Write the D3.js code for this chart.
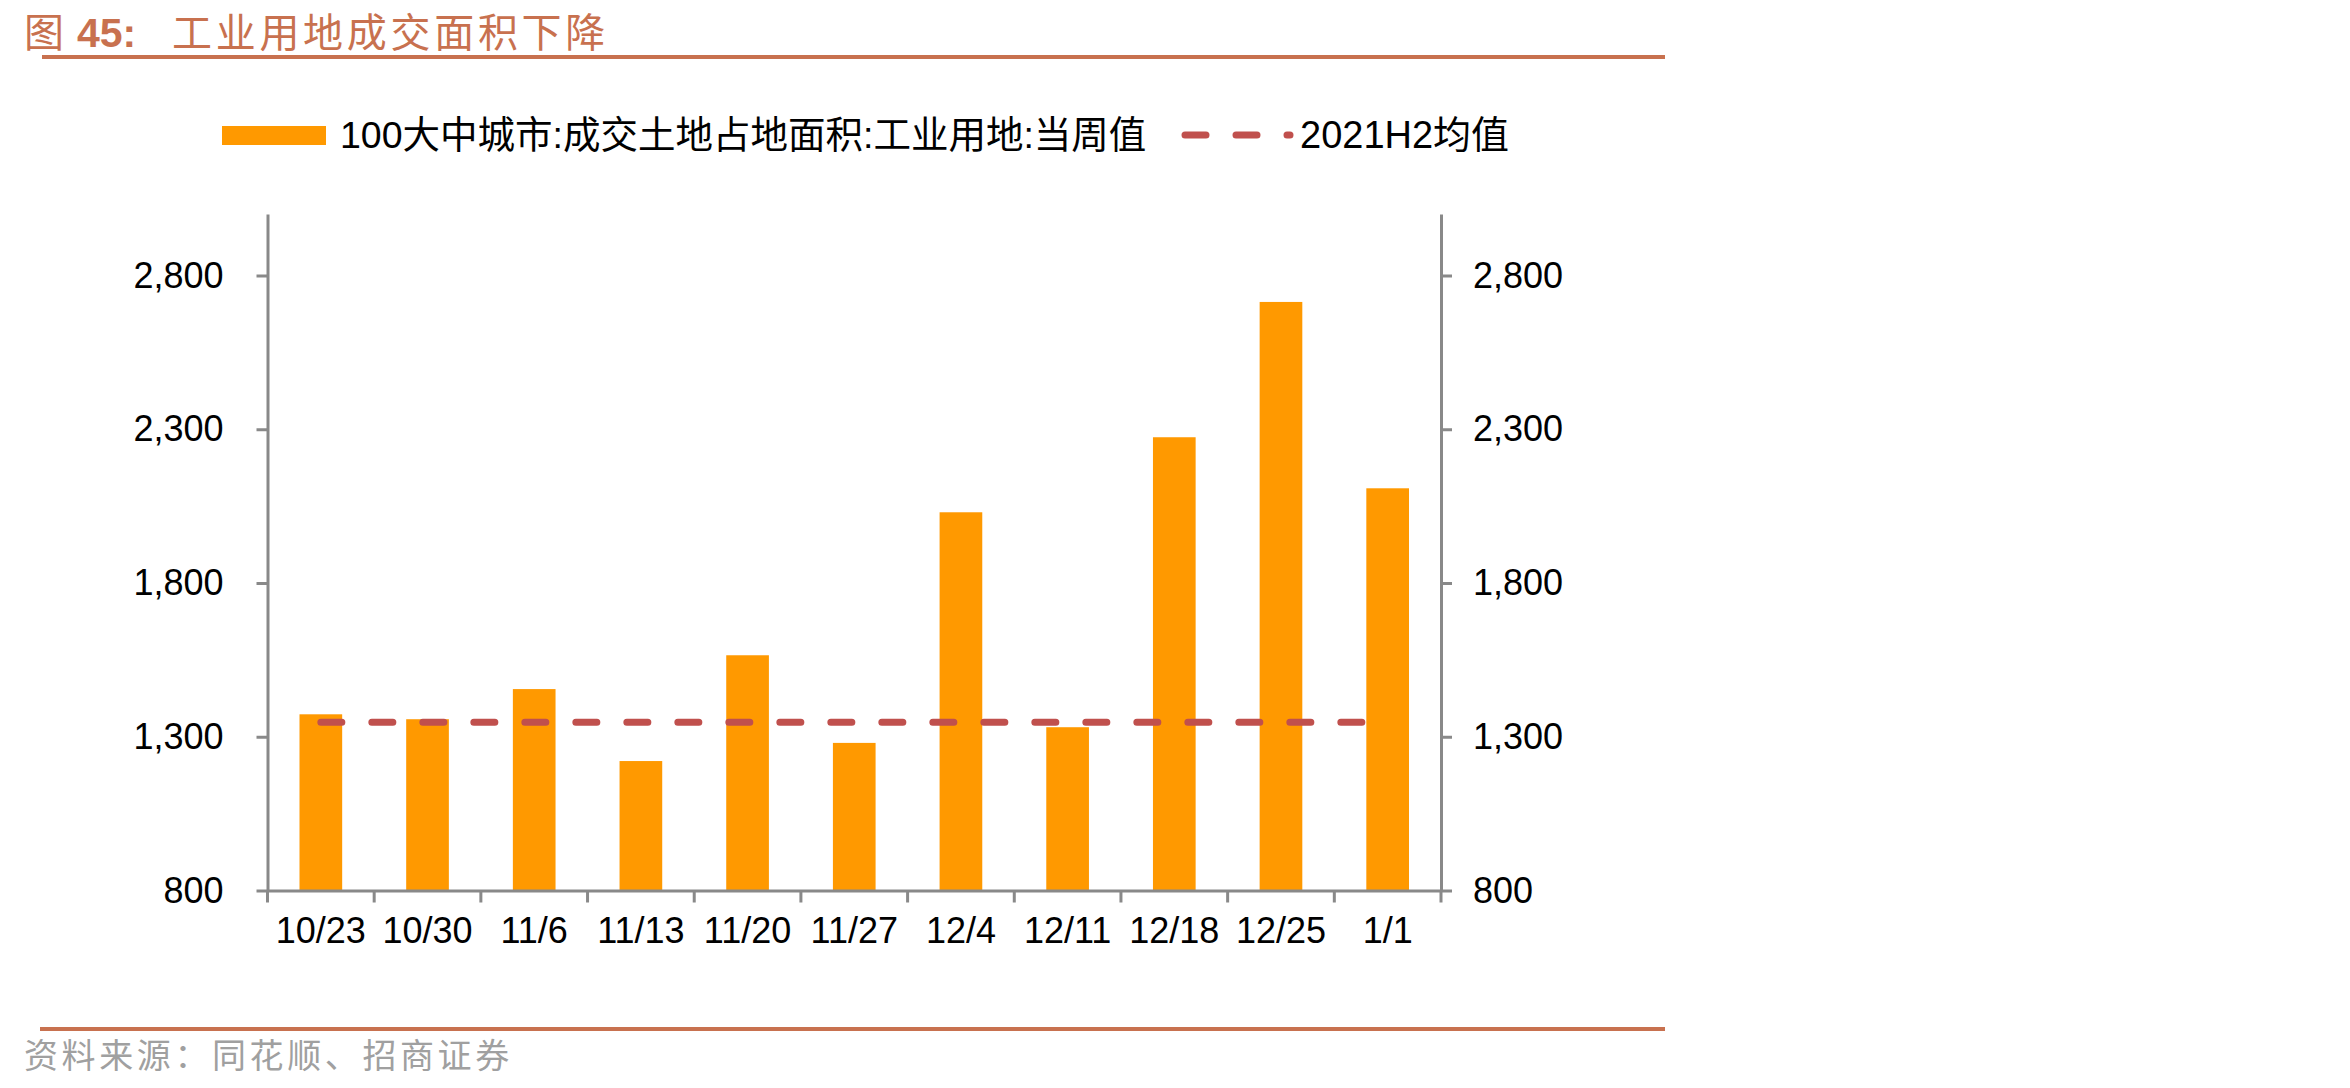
<!DOCTYPE html>
<html>
<head>
<meta charset="utf-8">
<script src="https://cdn.jsdelivr.net/npm/d3@7"></script>
<style>
  body { margin: 0; background: #fff; }
  svg text { font-family: "Liberation Sans", Arial, "Noto Sans CJK SC", sans-serif; }
</style>
</head>
<body>
<div id="chart"></div>
<script>
// data
const weeks = ["10/23", "10/30", "11/6", "11/13", "11/20", "11/27", "12/4", "12/11", "12/18", "12/25", "1/1"];
const weeklyArea = [1373, 1357, 1455, 1221, 1565, 1280, 2030, 1331, 2274, 2714, 2108];
const h2Mean = 1347;
const yTicks = [800, 1300, 1800, 2300, 2800];

const barName = "100大中城市:成交土地占地面积:工业用地:当周值";
const lineName = "2021H2均值";

const W = 2350, H = 1088;
const plotLeft = 267.5, plotRight = 1441, plotTop = 214, plotBottom = 890.5;

const svg = d3.select("#chart")
    .append("svg")
    .attr("width", W)
    .attr("height", H);

// title + rules
const title = svg.append("text")
    .attr("x", 24)
    .attr("y", 47)
    .attr("fill", "#c8714f")
    .attr("font-size", 40);
title.append("tspan").attr("font-family", "Noto Sans CJK SC").text("图");
title.append("tspan").attr("x", 77).attr("font-weight", "bold").attr("font-size", 41).text("45:");
title.append("tspan")
    .attr("x", 172)
    .attr("font-family", "Noto Sans CJK SC")
    .attr("letter-spacing", 3.7)
    .text("工业用地成交面积下降");

svg.append("line")
    .attr("x1", 42).attr("x2", 1665)
    .attr("y1", 57).attr("y2", 57)
    .attr("stroke", "#c8714f")
    .attr("stroke-width", 4);

svg.append("line")
    .attr("x1", 40).attr("x2", 1665)
    .attr("y1", 1029).attr("y2", 1029)
    .attr("stroke", "#c8714f")
    .attr("stroke-width", 4);

svg.append("text")
    .attr("x", 24)
    .attr("y", 1068)
    .attr("fill", "#a0a0a0")
    .attr("font-size", 34)
    .attr("font-family", "Noto Sans CJK SC")
    .attr("letter-spacing", 3.6)
    .text("资料来源：同花顺、招商证券");

// scales
const x = d3.scaleBand()
    .domain(weeks)
    .range([plotLeft, plotRight])
    .paddingInner(0.6)
    .paddingOuter(0.3);

const y = d3.scaleLinear()
    .domain([800, 3000])
    .range([plotBottom, plotTop]);

// bars
svg.selectAll(".bar")
    .data(weeks)
    .join("rect")
    .attr("class", "bar")
    .attr("x", d => x(d))
    .attr("width", x.bandwidth())
    .attr("y", (d, i) => y(weeklyArea[i]))
    .attr("height", (d, i) => plotBottom - y(weeklyArea[i]))
    .attr("fill", "#ff9900");

// H2 mean dashed line
svg.append("path")
    .datum(weeks)
    .attr("fill", "none")
    .attr("stroke", "#c0504d")
    .attr("stroke-width", 7)
    .attr("stroke-linecap", "round")
    .attr("stroke-dasharray", "21 30")
    .attr("d", d3.line()
        .x(d => x(d) + x.bandwidth() / 2)
        .y(() => y(h2Mean)));

// axes
const axisColor = "#898989";

const yLeft = svg.append("g")
    .attr("transform", `translate(${plotLeft},0)`)
    .call(d3.axisLeft(y).tickValues(yTicks).tickFormat(d3.format(",")).tickSize(11).tickSizeOuter(0).tickPadding(33));

const yRight = svg.append("g")
    .attr("transform", `translate(${plotRight},0)`)
    .call(d3.axisRight(y).tickValues(yTicks).tickFormat(d3.format(",")).tickSize(11).tickSizeOuter(0).tickPadding(21));

const xAxis = svg.append("g")
    .attr("transform", `translate(0,${plotBottom})`)
    .call(d3.axisBottom(x).tickSize(0).tickSizeOuter(0));
xAxis.selectAll("text").attr("y", 40).attr("dy", "0.35em");

// category boundary ticks on x axis
const gap = (x.step() - x.bandwidth()) / 2;
const bounds = weeks.map(d => x(d) - gap).concat([plotRight]);
xAxis.selectAll(".bound")
    .data(bounds)
    .join("line")
    .attr("class", "bound")
    .attr("x1", d => d).attr("x2", d => d)
    .attr("y1", 0).attr("y2", 12);

[yLeft, yRight, xAxis].forEach(g => {
    g.select(".domain").attr("stroke", axisColor).attr("stroke-width", 3);
    g.selectAll("line").attr("stroke", axisColor).attr("stroke-width", 3);
    g.selectAll("text").attr("font-size", 36).attr("fill", "#000")
        .attr("font-family", "'Liberation Sans', Arial, sans-serif");
});

// legend
svg.append("rect")
    .attr("x", 222).attr("y", 126)
    .attr("width", 104).attr("height", 19)
    .attr("fill", "#ff9900");
svg.append("text")
    .attr("x", 340).attr("y", 148)
    .attr("font-size", 37.5)
    .attr("fill", "#000")
    .text(barName);

svg.append("line")
    .attr("x1", 1185).attr("x2", 1290)
    .attr("y1", 135).attr("y2", 135)
    .attr("stroke", "#c0504d")
    .attr("stroke-width", 7)
    .attr("stroke-linecap", "round")
    .attr("stroke-dasharray", "21 30");
svg.append("text")
    .attr("x", 1300).attr("y", 148)
    .attr("font-size", 38)
    .attr("fill", "#000")
    .text(lineName);
</script>
</body>
</html>
